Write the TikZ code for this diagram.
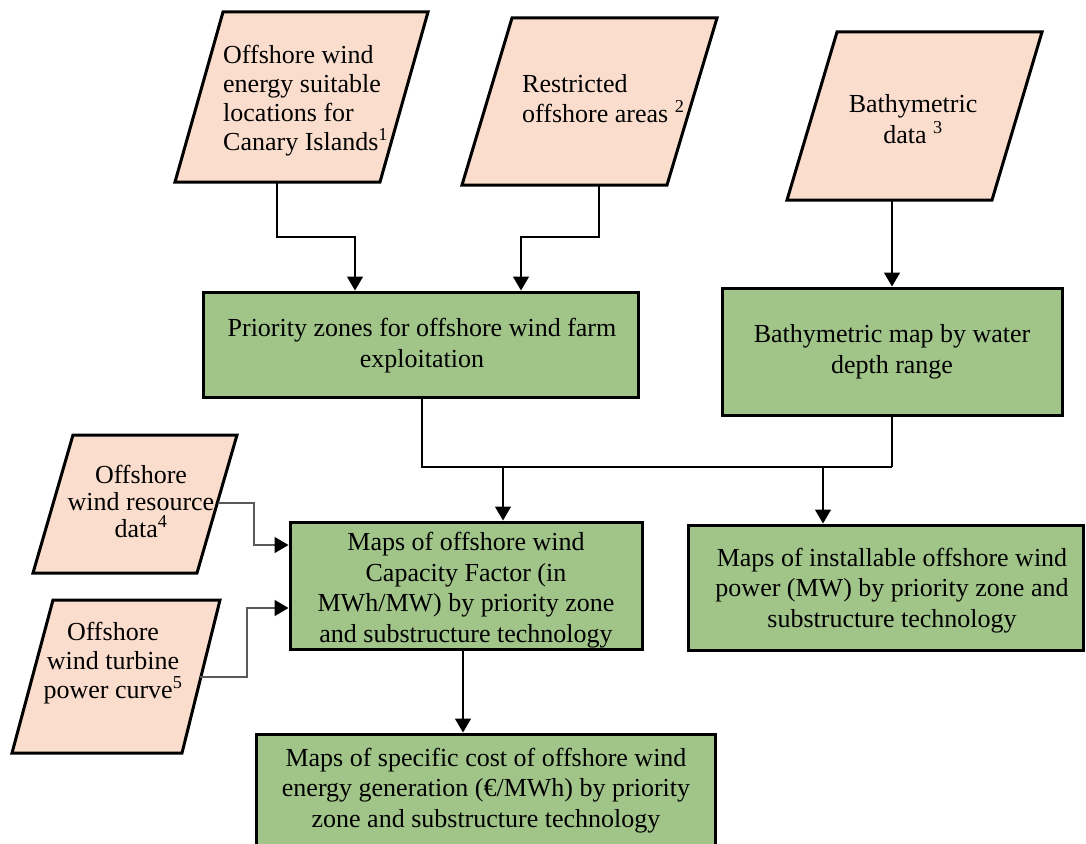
\documentclass[tikz,border=0pt]{standalone}
\usepackage{fontspec}
\setmainfont{Liberation Serif}
\usetikzlibrary{arrows.meta}
\definecolor{peach}{RGB}{251,221,205}
\definecolor{leaf}{RGB}{161,196,137}
\tikzset{
  inbox/.style={draw=black, line width=3pt, fill=peach, line join=miter},
  gbox/.style={draw=black, line width=3pt, fill=leaf, inner sep=0pt},
  btext/.style={inner sep=0pt, align=center, anchor=base, font=\fontsize{26}{30.5}\selectfont},
  ptext/.style={inner sep=0pt, font=\fontsize{26}{29}\selectfont},
  conn/.style={draw=black, line width=1.5pt, -{Triangle[length=14pt,width=16pt]}},
  plain/.style={draw=black, line width=1.5pt},
  gconn/.style={draw=black!65, line width=1.5pt, -{Triangle[length=14pt,width=16pt,color=black]}},
}
\begin{document}
\begin{tikzpicture}[x=1pt,y=-1pt]
\useasboundingbox (0,0) rectangle (1086,843);
% input parallelograms
\draw[inbox] (223,12) -- (428,12) -- (380,182) -- (175,182) -- cycle;
\draw[inbox] (512,18) -- (717,18) -- (667,185) -- (462,185) -- cycle;
\draw[inbox] (837,32) -- (1042,32) -- (992,200) -- (787,200) -- cycle;
\draw[inbox] (73,435) -- (237,435) -- (197,573) -- (33,573) -- cycle;
\draw[inbox] (53,600) -- (220,600) -- (182,753) -- (12,753) -- cycle;
\coordinate (p1b) at (277,182);
\coordinate (p2b) at (599,185);
\coordinate (p3b) at (892,200);
\coordinate (p4r) at (218,503);
\coordinate (p5r) at (200,677);
\node[ptext, anchor=base west, align=left] (t1) at (223,150)
  {Offshore wind\\energy suitable\\locations for\\Canary Islands\textsuperscript{1}};
\node[ptext, anchor=base west, align=left, font=\fontsize{26}{30}\selectfont] (t2) at (522,122)
  {Restricted\\offshore areas \textsuperscript{2}};
\node[ptext, anchor=base, align=center, font=\fontsize{26}{31}\selectfont] (t3) at (913,143)
  {Bathymetric\\data \textsuperscript{3}};
\node[ptext, anchor=base, align=center, font=\fontsize{26}{27}\selectfont] (t4) at (141,537)
  {Offshore\\wind resource\\data\textsuperscript{4}};
\node[ptext, anchor=base, align=center] (t5) at (113,698)
  {Offshore\\wind turbine\\power curve\textsuperscript{5}};
% process boxes
\node[gbox, minimum width=435pt, minimum height=105pt] (prio) at (420.5,344.5) {};
\node[btext] (prio-t) at (422,367) {Priority zones for offshore wind farm\\exploitation};
\node[gbox, minimum width=340pt, minimum height=127pt] (bath) at (892,351.5) {};
\node[btext] (bath-t) at (892,373) {Bathymetric map by water\\depth range};
\node[gbox, minimum width=352pt, minimum height=127pt] (cf) at (466,585.5) {};
\node[btext] (cf-t) at (466,642)
  {Maps of offshore wind\\Capacity Factor (in\\MWh/MW) by priority zone\\and substructure technology};
\node[gbox, minimum width=395pt, minimum height=125pt] (inst) at (885.5,587.5) {};
\node[btext] (inst-t) at (892,627)
  {Maps of installable offshore wind\\power (MW) by priority zone and\\substructure technology};
\node[gbox, minimum width=459pt, minimum height=114pt] (cost) at (485.5,791) {};
\node[btext] (cost-t) at (486,827)
  {Maps of specific cost of offshore wind\\energy generation (€/MWh) by priority\\zone and substructure technology};
% connectors
\coordinate (a1) at (355,237);
\coordinate (a2) at (521,237);
\draw[conn] (p1b) |- (a1) -- (a1 |- prio.north);
\draw[conn] (p2b) |- (a2) -- (a2 |- prio.north);
\draw[conn] (p3b) -- (bath.north);
\coordinate (j1) at (422,467);
\coordinate (j2) at (892,467);
\coordinate (j3) at (503,467);
\coordinate (j4) at (823,467);
\draw[plain] (j1 |- prio.south) -- (j1) -- (j2);
\draw[plain] (bath.south) -- (j2);
\draw[conn] (j3) -- (j3 |- cf.north);
\draw[conn] (j4) -- (j4 |- inst.north);
\coordinate (b1) at (254,545);
\coordinate (b2) at (247,608);
\draw[gconn] (p4r) -| (b1) -- (b1 -| cf.west);
\draw[gconn] (p5r) -| (b2) -- (b2 -| cf.west);
\coordinate (c1) at (463,649);
\draw[conn] (c1) -- (c1 |- cost.north);
\end{tikzpicture}
\end{document}
